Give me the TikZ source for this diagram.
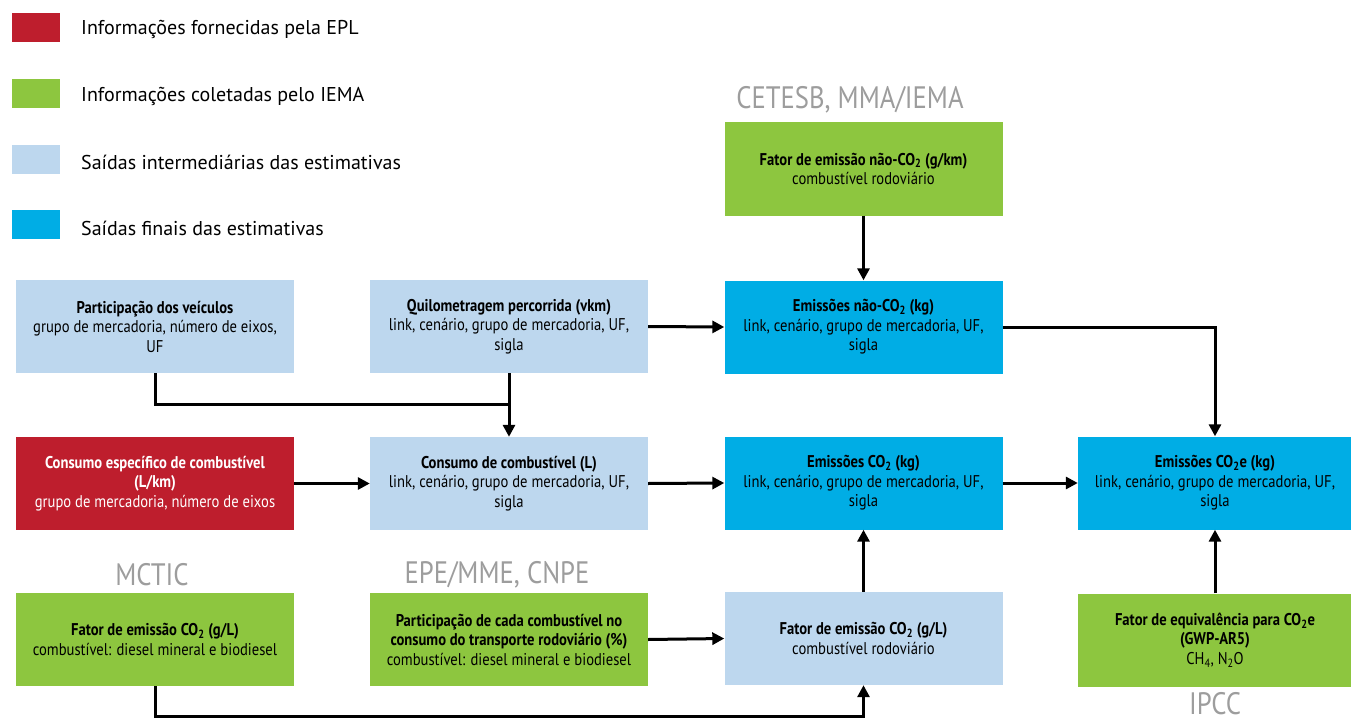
\documentclass[tikz,border=0pt]{standalone}
\usepackage{fontspec}
\setmainfont{PT Sans}
\newfontfamily\cond[FakeStretch=0.86]{PT Sans}
\newfontfamily\condsrc[FakeStretch=0.86]{PT Sans}
\usetikzlibrary{arrows.meta}
\definecolor{eplred}{HTML}{BE1E2D}
\definecolor{iemagreen}{HTML}{8DC63F}
\definecolor{interblue}{HTML}{BDD7EE}
\definecolor{finalblue}{HTML}{00ADE5}
\definecolor{srcgray}{HTML}{9D9D9D}
\tikzset{
  box/.style={rectangle, minimum width=278pt, minimum height=93pt, inner sep=0pt, align=center, font=\cond\fontsize{17}{19.5}\selectfont},
  swatch/.style={rectangle, minimum width=48pt, minimum height=29pt, inner sep=0pt},
  legtext/.style={anchor=west, inner sep=0pt, font=\fontsize{20}{22}\selectfont, text=black},
  src/.style={inner sep=0pt, text=srcgray, font=\condsrc\fontsize{31}{32}\selectfont},
  conn/.style={line width=3pt, draw=black},
  arr/.style={conn, -{Triangle[length=12pt,width=12pt]}}
}
\begin{document}
\begin{tikzpicture}[x=1pt,y=-1pt]
\useasboundingbox (0,0) rectangle (1351,722);
% legend
\node[swatch, fill=eplred] (s1) at (36,27.5) {};
\node[swatch, fill=iemagreen] (s2) at (36,93.5) {};
\node[swatch, fill=interblue] (s3) at (36,159.5) {};
\node[swatch, fill=finalblue] (s4) at (36,224.5) {};
\node[legtext] (l1) at (81,29) {Informações fornecidas pela EPL};
\node[legtext] (l2) at (81,96) {Informações coletadas pelo IEMA};
\node[legtext] (l3) at (81,162) {Saídas intermediárias das estimativas};
\node[legtext] (l4) at (81,228) {Saídas finais das estimativas};
% source labels
\node[src] (cetesb) at (850,100) {CETESB, MMA/IEMA};
\node[src] (mctic) at (152,575) {MCTIC};
\node[src] (epe) at (497,575) {EPE/MME, CNPE};
\node[src] (ipcc) at (1215,704) {IPCC};
% boxes
\node[box, fill=iemagreen] (T) at (863.5,169) {\textbf{Fator de emissão não-CO\textsubscript{2} (g/km)}\\combustível rodoviário};
\node[box, fill=interblue] (A) at (155,326.5) {\textbf{Participação dos veículos}\\grupo de mercadoria, número de eixos,\\UF};
\node[box, fill=interblue] (B) at (509,326.5) {\textbf{Quilometragem percorrida (vkm)}\\link, cenário, grupo de mercadoria, UF,\\sigla};
\node[box, fill=finalblue] (C) at (863.5,327) {\textbf{Emissões não-CO\textsubscript{2} (kg)}\\link, cenário, grupo de mercadoria, UF,\\sigla};
\node[box, fill=eplred, text=white] (D) at (155,483.5) {\textbf{Consumo específico de combustível}\\\textbf{(L/km)}\\grupo de mercadoria, número de eixos};
\node[box, fill=interblue] (E) at (509,483.5) {\textbf{Consumo de combustível (L)}\\link, cenário, grupo de mercadoria, UF,\\sigla};
\node[box, fill=finalblue] (F) at (863.5,483) {\textbf{Emissões CO\textsubscript{2} (kg)}\\link, cenário, grupo de mercadoria, UF,\\sigla};
\node[box, fill=finalblue, minimum width=274pt] (G) at (1215,483) {\textbf{Emissões CO\textsubscript{2}e (kg)}\\link, cenário, grupo de mercadoria, UF,\\sigla};
\node[box, fill=iemagreen] (M) at (155,639.5) {\textbf{Fator de emissão CO\textsubscript{2} (g/L)}\\combustível: diesel mineral e biodiesel};
\node[box, fill=iemagreen] (P) at (509,639.5) {\textbf{Participação de cada combustível no}\\\textbf{consumo do transporte rodoviário (\%)}\\combustível: diesel mineral e biodiesel};
\node[box, fill=interblue] (FC) at (863.5,638.5) {\textbf{Fator de emissão CO\textsubscript{2} (g/L)}\\combustível rodoviário};
\node[box, fill=iemagreen, minimum width=274pt] (Q) at (1215,640) {\textbf{Fator de equivalência para CO\textsubscript{2}e}\\\textbf{(GWP-AR5)}\\CH\textsubscript{4}, N\textsubscript{2}O};
% connectors
\draw[conn] (A.south) -- ++(0,31) -| (B.south);
\draw[arr] (B.south) -- (E.north);
\draw[arr] (B.east) -- (C.west);
\draw[arr] (T.south) -- (C.north);
\draw[arr] (C.east) -| (G.north);
\draw[arr] (D.east) -- (E.west);
\draw[arr] (E.east) -- (F.west);
\draw[arr] (F.east) -- (G.west);
\draw[arr] (P.east) -- (FC.west);
\draw[arr] (FC.north) -- (F.south);
\draw[arr] (M.south) -- ++(0,30) -| (FC.south);
\draw[arr] (Q.north) -- (G.south);
\end{tikzpicture}
\end{document}
